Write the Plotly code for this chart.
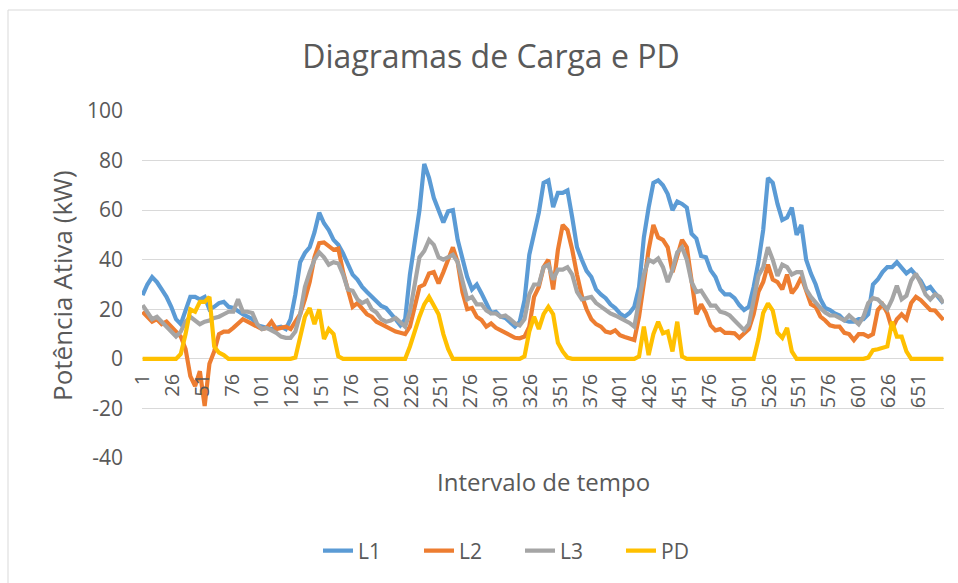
import plotly.graph_objects as go

# Sampled time intervals (every 4th 15-min interval of the week, plus the last one)
interval = list(range(1, 670, 4)) + [672]

L1 = [
    25.7, 30, 33, 31, 28, 25, 21, 16, 14, 20, 25, 25, 24, 25, 20, 21, 22.5, 23, 21, 20.5, 19, 18, 17, 16,
    13.5, 13, 12.5, 12, 12.5, 13, 12, 16, 26, 39, 42.7, 45, 51, 59, 54.7, 52, 48, 46, 42.5, 38, 34, 32, 29, 27,
    25, 23.5, 21.3, 20.5, 18.5, 16, 13.5, 16, 34, 47.8, 60, 78.6, 73, 65, 59.8, 55, 59.5, 60, 48, 41, 33, 28, 30, 26.4,
    22, 18.5, 19, 17, 16.5, 14.5, 13, 15, 23.7, 42, 51, 59, 71, 72, 61.2, 67, 67, 68, 57, 45, 40, 35.5, 33, 28,
    26, 24.5, 22, 20.5, 18.3, 17, 18.5, 21, 29, 49, 61, 71, 72, 70, 66.5, 60, 63.5, 62.5, 61, 50.5, 48.5, 41.5, 41, 35.7,
    33, 28, 26, 26, 24.5, 21.7, 19.7, 21, 29, 39, 52, 73, 71, 62.5, 56, 57, 61, 50, 54, 40, 34.4, 30, 24, 20.5,
    19.7, 18.3, 17.5, 15.5, 15, 15, 16, 16, 18, 30, 32, 35, 37, 37, 39, 36.5, 34.5, 36, 34, 31.5, 28, 29, 26.5, 24,
    22.4,
]

L2 = [
    19, 17, 15, 16, 14, 15, 13, 11, 9, 4, -7, -11, -5, -19, -2, 3, 10, 11, 11, 12.5, 14, 16, 15, 14,
    13, 12, 12.5, 15, 12, 12.5, 13, 12, 15, 18, 24, 31, 41, 46.7, 47, 45.3, 44, 44.5, 35, 28, 21, 22.5, 20, 18,
    17, 15, 14, 13, 12, 11, 10.5, 10, 13, 21, 29, 30, 34.4, 35, 30.4, 35, 39.8, 45, 39, 27, 20, 20.5, 17, 15.7,
    13, 14.3, 12.5, 11.6, 10.3, 9.5, 8.5, 8.3, 9, 13, 25, 29, 37, 40, 28, 44, 54, 52, 44, 34, 25.5, 20, 16, 14,
    13, 11, 10.5, 11.5, 9.5, 8.8, 8.3, 7.6, 17, 32, 44, 54, 49, 48, 45, 35, 41, 48, 45, 31, 18, 22, 18.5, 13.5,
    11.5, 12, 10.5, 10.5, 10.3, 8.5, 10.3, 12, 18, 27, 31, 38, 32, 31, 28, 34, 26.5, 29, 33, 28, 22, 21, 17, 15.5,
    13.5, 13, 13, 10.5, 10, 7.6, 10, 10, 9, 10, 19.7, 22, 18.5, 12, 16, 18, 16, 22.5, 25, 23.7, 21.5, 19.7, 19.5, 17.5,
    15.7,
]

L3 = [
    21.7, 19, 16, 17, 15, 13, 11, 9, 11, 15, 17, 15.5, 14, 15, 15.5, 16.5, 17, 18, 19, 19, 24, 19, 19, 18.5,
    14, 12, 12.5, 11.5, 10.5, 9, 8.5, 8.5, 11, 18, 29, 35, 40, 43, 41, 38, 39, 38.5, 34, 28, 27.5, 24, 22.5, 23.5,
    20, 18.7, 16, 15, 15.5, 16.5, 15, 13, 19, 30, 41, 43.5, 48, 46, 41, 40, 41, 42, 39, 31, 24, 25, 22, 22,
    19.5, 18.3, 18.3, 17, 17.5, 16, 14.3, 13.5, 16, 26, 30, 30, 37, 38, 32, 36, 36, 37, 34, 27, 24, 24.5, 25, 22.5,
    21, 19.5, 18.3, 17.5, 16.5, 15.7, 14.5, 13, 23, 34, 40, 39, 40.5, 37, 31, 36, 43, 45, 40, 31, 27, 27.5, 24.5, 21.5,
    21.5, 19, 18.5, 17.5, 15.5, 13.5, 11.6, 14, 23, 33.5, 37, 45, 40, 33.5, 38, 37, 34, 35, 35, 28, 25, 22.5, 20.5, 18.7,
    17.5, 17.5, 16.5, 15.5, 17.5, 16, 14, 17, 22.5, 24.5, 24, 22, 20, 24, 29.5, 24, 25.5, 31.5, 34.4, 30.5, 26, 24, 26, 25,
    22.4,
]

PD = [
    0, 0, 0, 0, 0, 0, 0, 0, 2, 10, 20, 19, 23, 23, 25, 5, 2.5, 1.5, 0, 0, 0, 0, 0, 0,
    0, 0, 0, 0, 0, 0, 0, 0, 0.5, 9, 17, 20.5, 14, 20, 8, 12, 10, 1, 0, 0, 0, 0, 0, 0,
    0, 0, 0, 0, 0, 0, 0, 0, 5, 11.6, 17, 22, 25, 21.5, 18, 10, 4, 0, 0, 0, 0, 0, 0, 0,
    0, 0, 0, 0, 0, 0, 0, 0, 1, 11, 17, 12, 18, 21, 18, 6.5, 3, 0.5, 0, 0, 0, 0, 0, 0,
    0, 0, 0, 0, 0, 0, 0, 0, 1, 13, 1.5, 10, 15, 10.3, 11, 3, 15, 1, 0, 0, 0, 0, 0, 0,
    0, 0, 0, 0, 0, 0, 0, 0, 0, 8, 18.5, 22.4, 19.5, 10.5, 8.5, 12.5, 3, 0, 0, 0, 0, 0, 0, 0,
    0, 0, 0, 0, 0, 0, 0, 0, 0.5, 3.5, 3.9, 4.3, 5, 15, 9, 9, 3, 0, 0, 0, 0, 0, 0, 0,
    0,
]

series_names = ["L1", "L2", "L3", "PD"]
series_colors = ["#5B9BD5", "#ED7D31", "#A5A5A5", "#FFC000"]

x_tick_vals = list(range(1, 652, 25))
x_tick_text = [str(v) for v in x_tick_vals]
y_tick_vals = [-40, -20, 0, 20, 40, 60, 80, 100]
y_tick_text = ["-40", "-20", "0", "20", "40", "60", "80", "100"]

Y_MIN, Y_MAX = -40, 100
W, H = 958, 583
ML, MR, MT, MB = 142, 14, 111, 125
PW, PH = W - ML - MR, H - MT - MB

FONT = "Open Sans, Noto Sans, sans-serif"
TXT = "#595959"

fig = go.Figure()
for name, vals, col in zip(series_names, [L1, L2, L3, PD], series_colors):
    fig.add_trace(go.Scatter(
        x=interval, y=vals, name=name, mode="lines",
        line=dict(color=col, width=4.2), hoverinfo="skip",
    ))

def px_to_paper_x(px):
    return (px - ML) / PW

def px_to_paper_y(py):
    return (H - MB - py) / PH

fig.update_layout(
    width=W, height=H,
    margin=dict(l=ML, r=MR, t=MT, b=MB),
    paper_bgcolor="white", plot_bgcolor="white",
    font=dict(family=FONT, color=TXT),
    title=dict(text="Diagramas de Carga e PD", font=dict(size=32, color=TXT, family=FONT),
               x=491 / W, xref="container", xanchor="center",
               y=1 - 57 / H, yref="container", yanchor="middle"),
    showlegend=True,
    legend=dict(orientation="h", xref="container", yref="container",
                x=318 / W, xanchor="left", y=1 - 551 / H, yanchor="middle",
                font=dict(size=21, color=TXT, family=FONT),
                entrywidth=56, entrywidthmode="pixels",
                bgcolor="rgba(0,0,0,0)", borderwidth=0),
    xaxis=dict(range=[0.5, 672.5], tickmode="array", tickvals=x_tick_vals, ticktext=x_tick_text,
               tickangle=-90, showgrid=False, zeroline=False, showline=False, ticks="",
               anchor="free", position=(0 - Y_MIN) / (Y_MAX - Y_MIN),
               tickfont=dict(size=20, color=TXT, family=FONT), ticklabelstandoff=10),
    yaxis=dict(range=[Y_MIN, Y_MAX], tickmode="array", tickvals=y_tick_vals, ticktext=y_tick_text,
               showgrid=True, gridcolor="#D9D9D9",
               gridwidth=1, zeroline=True, zerolinecolor="#D9D9D9", zerolinewidth=1,
               showline=False, ticks="", tickfont=dict(size=21, color=TXT, family=FONT),
               ticklabelstandoff=18),
    annotations=[
        dict(text="Potência Ativa (kW)", textangle=-90, xref="paper", yref="paper",
             x=px_to_paper_x(62), y=px_to_paper_y(286), xanchor="center", yanchor="middle",
             showarrow=False, font=dict(size=26, color=TXT, family=FONT)),
        dict(text="Intervalo de tempo", xref="paper", yref="paper",
             x=px_to_paper_x(543), y=px_to_paper_y(481), xanchor="center", yanchor="middle",
             showarrow=False, font=dict(size=24, color=TXT, family=FONT)),
    ],
    shapes=[
        dict(type="rect", xref="paper", yref="paper",
             x0=px_to_paper_x(8), x1=px_to_paper_x(975),
             y0=px_to_paper_y(600), y1=px_to_paper_y(10),
             line=dict(color="#D9D9D9", width=1), fillcolor="rgba(0,0,0,0)", layer="below"),
    ],
)

fig.write_html("out.html", config={"displayModeBar": False},
               post_script="document.body.style.margin='0px';")
